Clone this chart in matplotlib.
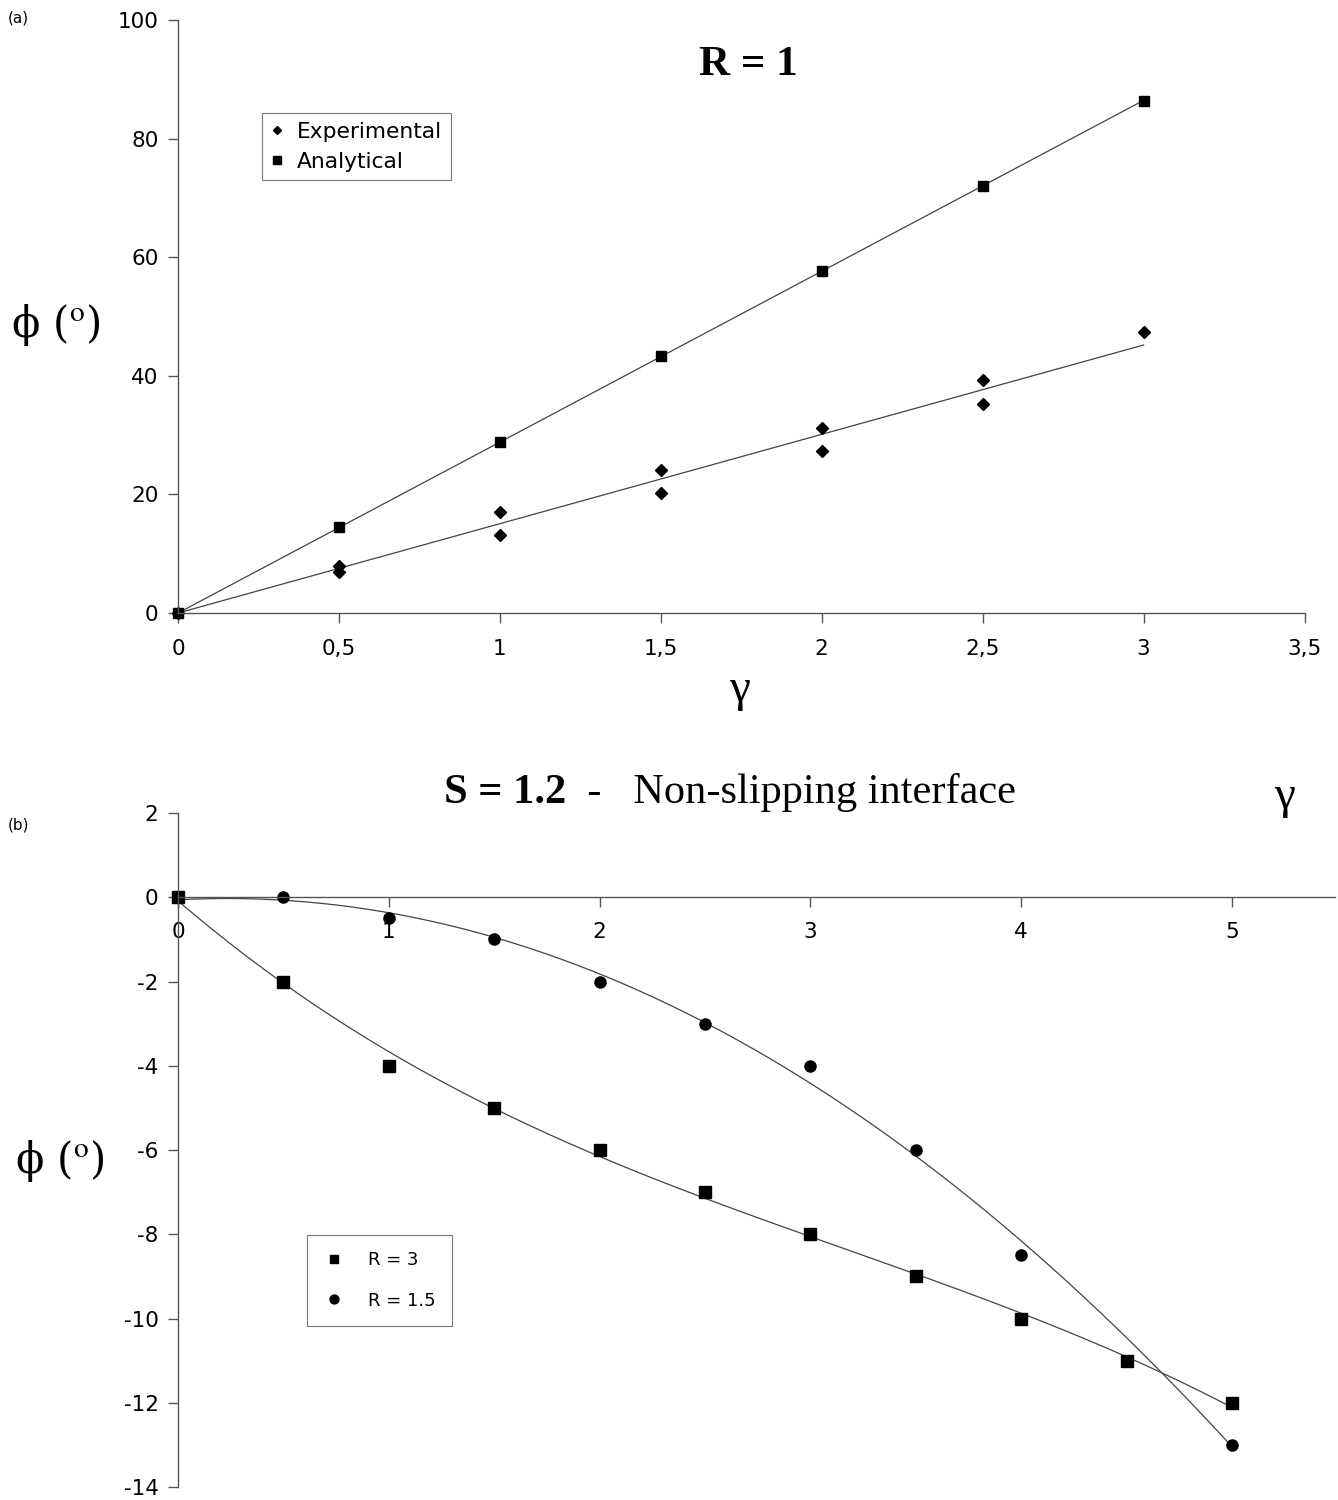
import numpy as np
import matplotlib.pyplot as plt
from matplotlib.ticker import FuncFormatter

plt.rcParams['axes.unicode_minus'] = False
plt.rcParams['font.family'] = 'DejaVu Sans'

# panel (a) data, R = 1
gamma_a = [0, 0.5, 1, 1.5, 2, 2.5, 3]
analytical = [0, 14.5, 28.9, 43.3, 57.6, 72.0, 86.4]
exp_gamma = [0, 0.5, 0.5, 1, 1, 1.5, 1.5, 2, 2, 2.5, 2.5, 3]
experimental = [0, 8.0, 7.0, 17.0, 13.1, 24.2, 20.2, 31.2, 27.3, 39.3, 35.3, 47.4]

# panel (b) data, S = 1.2
gamma_b = [0, 0.5, 1, 1.5, 2, 2.5, 3, 3.5, 4, 4.5, 5]
r3 = [0, -2, -4, -5, -6, -7, -8, -9, -10, -11, -12]
gamma_b2 = [0, 0.5, 1, 1.5, 2, 2.5, 3, 3.5, 4, 5]
r15 = [0, 0, -0.5, -1, -2, -3, -4, -6, -8.5, -13]

serif = 'Liberation Serif'
tick_fs = 15.5
phi_label = 'ϕ ($^{\\mathrm{o}}$)'

fig = plt.figure(figsize=(13.38, 15), dpi=100)

# ---------- (a) ----------
ax1 = fig.add_axes([0.133, 0.5913, 0.842, 0.3954])
x = np.array(exp_gamma)
y = np.array(experimental)
slope = np.sum(x * y) / np.sum(x * x)  # trend line through origin
xs = np.array([0, max(exp_gamma)])
ax1.plot(xs, slope * xs, color='#444444', lw=0.9)
xa = np.array(gamma_a)
ya = np.array(analytical)
slope_a = np.sum(xa * ya) / np.sum(xa * xa)
ax1.plot(xs, slope_a * xs, color='#444444', lw=0.9)
ax1.plot(exp_gamma, experimental, 'D', color='black', ms=6.5, label='Experimental', clip_on=False)
ax1.plot(gamma_a, analytical, 's', color='black', ms=7.5, label='Analytical', clip_on=False)

ax1.set_xlim(0, 3.5)
ax1.set_ylim(0, 100)
ax1.set_xticks(np.arange(0, 3.51, 0.5))
ax1.set_yticks(np.arange(0, 101, 20))
ax1.xaxis.set_major_formatter(FuncFormatter(lambda v, p: f"{v:g}".replace('.', ',')))
for s in ['top', 'right']:
    ax1.spines[s].set_visible(False)
for s in ['left', 'bottom']:
    ax1.spines[s].set_color('#555555')
    ax1.spines[s].set_linewidth(1.0)
ax1.tick_params(labelsize=tick_fs, length=7, color='#555555', width=1)
ax1.tick_params(axis='x', pad=12)
ax1.tick_params(axis='y', pad=7)
leg = ax1.legend(loc='upper left', bbox_to_anchor=(0.0745, 0.843), fontsize=15.7,
                 frameon=True, fancybox=False, edgecolor='#555555', borderaxespad=0,
                 handlelength=0.6, handletextpad=0.6, borderpad=0.4,
                 labelspacing=0.45, markerscale=0.7)
leg.get_frame().set_linewidth(0.8)
ax1.text(0.506, 0.924, 'R = 1', transform=ax1.transAxes, family=serif,
         fontsize=31, fontweight='bold', ha='center', va='center')
fig.text(0.553, 0.54, '\u03b3', family=serif, fontsize=34, ha='center', va='center')
fig.text(0.042, 0.783, phi_label, family='DejaVu Serif', fontsize=30, ha='center',
         va='center', math_fontfamily='stix')
fig.text(0.006, 0.988, '(a)', fontsize=11, ha='left', va='center')

# ---------- (b) ----------
ax2 = fig.add_axes([0.133, 0.00867, 0.865, 0.4493])
xx = np.linspace(0, 5, 200)
c3 = np.polyfit(gamma_b, r3, 3)
c15 = np.polyfit(gamma_b2, r15, 2)
ax2.plot(xx, np.polyval(c3, xx), color='#444444', lw=0.9)
ax2.plot(xx, np.polyval(c15, xx), color='#444444', lw=0.9)
ax2.plot(gamma_b, r3, 's', color='black', ms=8, label='R = 3', clip_on=False)
ax2.plot(gamma_b2, r15, 'o', color='black', ms=8, label='R = 1.5', clip_on=False)

ax2.set_xlim(0, 5.49)
ax2.set_ylim(-14, 2)
ax2.set_xticks(range(0, 6))
ax2.set_yticks(np.arange(-14, 2.1, 2))
ax2.yaxis.set_major_formatter(FuncFormatter(lambda v, p: f"{v:g}"))
for s in ['top', 'right']:
    ax2.spines[s].set_visible(False)
ax2.spines['bottom'].set_position(('data', 0))
for s in ['left', 'bottom']:
    ax2.spines[s].set_color('#555555')
    ax2.spines[s].set_linewidth(1.0)
ax2.tick_params(labelsize=tick_fs, length=7, color='#555555', width=1)
ax2.tick_params(axis='x', pad=11)
ax2.tick_params(axis='y', pad=7)
leg2 = ax2.legend(loc='upper left', bbox_to_anchor=(0.1115, 0.374), fontsize=13,
                  frameon=True, fancybox=False, edgecolor='#555555', borderaxespad=0,
                  handlelength=1.2, handletextpad=1.3, borderpad=0.9,
                  labelspacing=1.25, markerscale=0.8)
leg2.get_frame().set_linewidth(0.8)

t1 = fig.text(0.332, 0.4713, 'S = 1.2', family=serif, fontsize=30.5, fontweight='bold',
              ha='left', va='center')
ax2.annotate('  -   Non-slipping interface', xy=(1, 0), xycoords=t1, family=serif,
             fontsize=30.5, ha='left', va='bottom')
fig.text(0.96, 0.469, '\u03b3', family=serif, fontsize=34, ha='center', va='center')
fig.text(0.045, 0.226, phi_label, family='DejaVu Serif', fontsize=30, ha='center',
         va='center', math_fontfamily='stix')
fig.text(0.006, 0.45, '(b)', fontsize=11, ha='left', va='center')

fig.savefig('out.png', dpi=100)
